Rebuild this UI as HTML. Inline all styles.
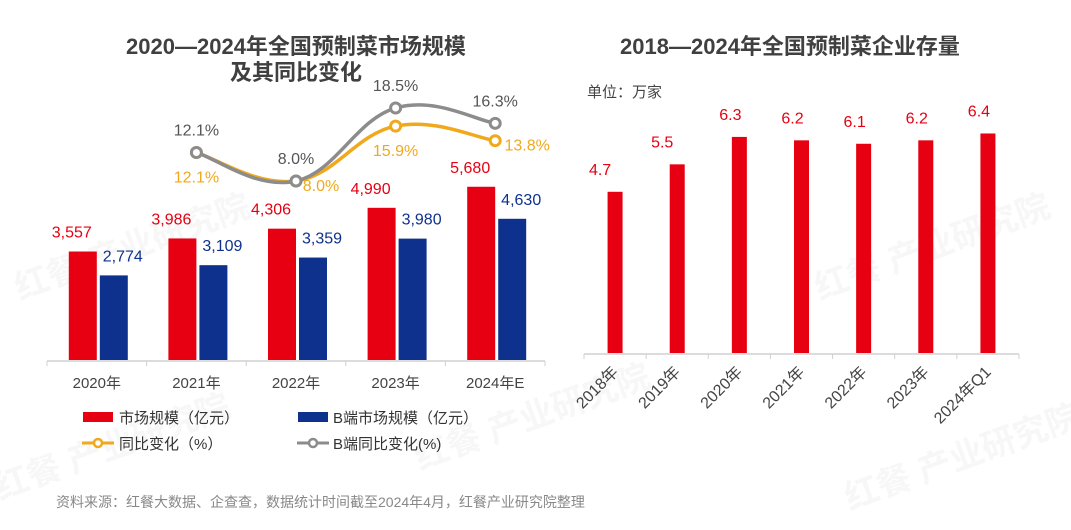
<!DOCTYPE html>
<html><head><meta charset="utf-8"><style>
body{margin:0;background:#fff;}
svg{display:block;font-family:"Liberation Sans","Noto Sans CJK SC",sans-serif;}
</style></head><body>
<svg id="c" width="1071" height="530" viewBox="0 0 1071 530" xmlns="http://www.w3.org/2000/svg">
<g fill="#f7f7f7" font-size="34" font-weight="bold">
<text x="20" y="300" transform="rotate(-20 20 300)">红餐 产业研究院</text>
<text x="820" y="300" transform="rotate(-20 820 300)">红餐 产业研究院</text>
<text x="420" y="470" transform="rotate(-20 420 470)">红餐 产业研究院</text>
<text x="0" y="500" transform="rotate(-20 0 500)">红餐 产业研究院</text>
<text x="850" y="510" transform="rotate(-20 850 510)">红餐 产业研究院</text>
</g>
<text x="296" y="54" text-anchor="middle" font-size="22" font-weight="bold" fill="#404040">2020—2024年全国预制菜市场规模</text>
<text x="296" y="80" text-anchor="middle" font-size="22" font-weight="bold" fill="#404040">及其同比变化</text>
<text x="790" y="54" text-anchor="middle" font-size="22" font-weight="bold" fill="#404040">2018—2024年全国预制菜企业存量</text>
<text x="587" y="97" font-size="15" fill="#444">单位：万家</text>
<g id="left"></g>
<g id="right"></g>
<g font-size="15" fill="#333">
<g><rect x="83" y="412" width="30" height="10" fill="#e60012"/><text x="119" y="423">市场规模（亿元）</text></g>
<g><rect x="298" y="412" width="30" height="10" fill="#0e318e"/><text x="333" y="423">B端市场规模（亿元）</text></g>
<g><line x1="82" y1="443" x2="114" y2="443" stroke="#f0a91d" stroke-width="3"/><circle cx="98" cy="443" r="4" fill="#fff" stroke="#f0a91d" stroke-width="2.5"/><text x="119" y="449">同比变化（%）</text></g>
<g><line x1="297" y1="443" x2="329" y2="443" stroke="#8c8c8c" stroke-width="3"/><circle cx="313" cy="443" r="4" fill="#fff" stroke="#8c8c8c" stroke-width="2.5"/><text x="333" y="449">B端同比变化(%)</text></g>
</g>
<text x="56" y="507" font-size="14" fill="#888">资料来源：红餐大数据、企查查，数据统计时间截至2024年4月，红餐产业研究院整理</text>
</svg>
<script>
const leftCats=["2020年","2021年","2022年","2023年","2024年E"];
const marketVals=[3557,3986,4306,4990,5680];
const bMarketVals=[2774,3109,3359,3980,4630];
const yoyVals=[null,12.1,8.0,15.9,13.8];
const bYoyVals=[null,12.1,8.0,18.5,16.3];
const rightCats=["2018年","2019年","2020年","2021年","2022年","2023年","2024年Q1"];
const companyVals=[4.7,5.5,6.3,6.2,6.1,6.2,6.4];

const NS="http://www.w3.org/2000/svg";
function mk(p,t,a,txt){const e=document.createElementNS(NS,t);for(const k in a)e.setAttribute(k,a[k]);if(txt!=null)e.textContent=txt;p.appendChild(e);return e;}
const fmt=v=>v.toLocaleString("en-US");

// left chart
const L=document.getElementById("left");
const lx0=47,lx1=545,lBase=360,lw=(lx1-lx0)/leftCats.length;
const ly=v=>lBase-v*0.0305;
const lc=i=>lx0+lw*(i+0.5);
const py=v=>236.6-v*6.95;
const ax=mk(L,"line",{x1:lx0,y1:lBase+1,x2:lx1,y2:lBase+1,stroke:"#d0d0d0","stroke-width":1.5});


for(let i=0;i<=leftCats.length;i++){const t=mk(L,"line",{x1:lx0+lw*i,y1:lBase+1,x2:lx0+lw*i,y2:lBase+6,stroke:"#d0d0d0"});

}
leftCats.forEach((c,i)=>{
 const cx=lc(i);
 const r=mk(L,"rect",{x:cx-28,y:ly(marketVals[i]),width:28,height:lBase-ly(marketVals[i]),fill:"#e60012"});
 
 
 const b=mk(L,"rect",{x:cx+3,y:ly(bMarketVals[i]),width:28,height:lBase-ly(bMarketVals[i]),fill:"#0e318e"});
 
 
 const t1=mk(L,"text",{x:cx-25,y:ly(marketVals[i])-14,"text-anchor":"middle","font-size":16,fill:"#e60012"},fmt(marketVals[i]));
 
 
 const t2=mk(L,"text",{x:cx+26,y:ly(bMarketVals[i])-14,"text-anchor":"middle","font-size":16,fill:"#0e318e"},fmt(bMarketVals[i]));
 
 
 const xl=mk(L,"text",{x:cx,y:lBase+28,"text-anchor":"middle","font-size":15,fill:"#444"},c);
 
 
});
function smooth(pts){let d="M"+pts[0][0]+","+pts[0][1];for(let i=0;i<pts.length-1;i++){const p0=pts[i-1]||pts[i],p1=pts[i],p2=pts[i+1],p3=pts[i+2]||p2;const k=0.2;d+=" C"+(p1[0]+(p2[0]-p0[0])*k)+","+(p1[1]+(p2[1]-p0[1])*k)+" "+(p2[0]-(p3[0]-p1[0])*k)+","+(p2[1]-(p3[1]-p1[1])*k)+" "+p2[0]+","+p2[1];}return d;}
function series(vals,color,name){
 const pts=[];vals.forEach((v,i)=>{if(v!=null)pts.push([lc(i),py(v),v]);});
 const p=mk(L,"path",{d:smooth(pts),fill:"none",stroke:color,"stroke-width":3.5});
 
 
 pts.forEach((q,j)=>{const c=mk(L,"circle",{cx:q[0],cy:q[1],r:5,fill:"#fff",stroke:color,"stroke-width":3});
 
 });
 return pts;
}
const op=series(yoyVals,"#f0a91d","yoy");
const gp=series(bYoyVals,"#8c8c8c","b-yoy");
const oOff=[[0,30],[25,10],[0,30],[32,10]];
op.forEach((q,j)=>{const t=mk(L,"text",{x:q[0]+oOff[j][0],y:q[1]+oOff[j][1],"text-anchor":"middle","font-size":16,fill:"#f0a91d"},q[2].toFixed(1)+"%");

});
gp.forEach((q,j)=>{const t=mk(L,"text",{x:q[0],y:q[1]-17,"text-anchor":"middle","font-size":16,fill:"#555"},q[2].toFixed(1)+"%");

});

// right chart
const R=document.getElementById("right");
const rx0=584,rx1=1019,rBase=353,rw=(rx1-rx0)/rightCats.length;
const ry=v=>rBase-v*34.3;
const rax=mk(R,"line",{x1:rx0,y1:rBase+1,x2:rx1,y2:rBase+1,stroke:"#d0d0d0","stroke-width":1.5});


for(let i=0;i<=rightCats.length;i++){const t=mk(R,"line",{x1:rx0+rw*i,y1:rBase+1,x2:rx0+rw*i,y2:rBase+6,stroke:"#d0d0d0"});

}
rightCats.forEach((c,i)=>{
 const cx=rx0+rw*(i+0.5);
 const r=mk(R,"rect",{x:cx-7.5,y:ry(companyVals[i]),width:15,height:rBase-ry(companyVals[i]),fill:"#e60012"});
 
 
 const t=mk(R,"text",{x:cx-(i<2?15:9),y:ry(companyVals[i])-17,"text-anchor":"middle","font-size":16,fill:"#e60012"},companyVals[i].toFixed(1));
 
 
 const xl=mk(R,"text",{x:cx+4,y:rBase+20,"text-anchor":"end","font-size":16,fill:"#444",transform:"rotate(-45 "+(cx+4)+" "+(rBase+20)+")"},c);
 
 
});
</script>
</body></html>
